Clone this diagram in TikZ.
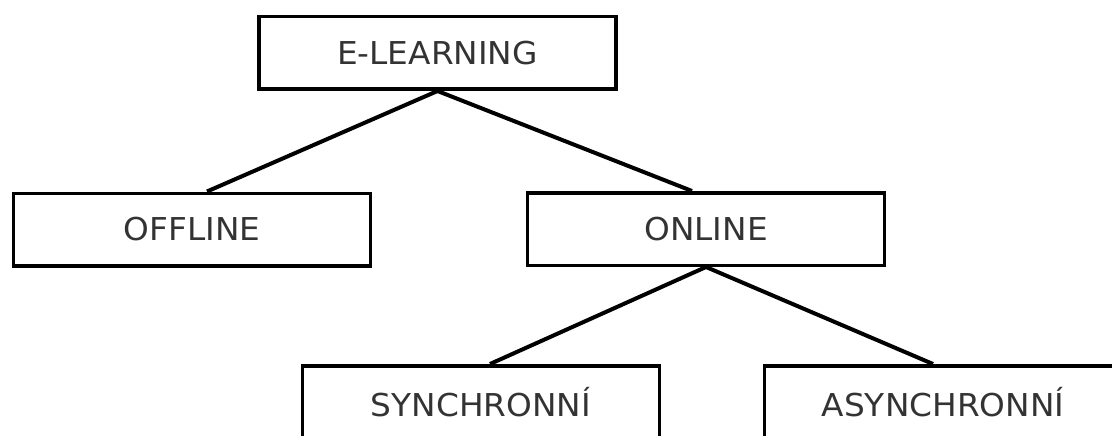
\documentclass[tikz,border=0pt]{standalone}
\usepackage{fontspec}
\setmainfont{DejaVu Sans}[FakeStretch=1.04]
\usetikzlibrary{calc}
\begin{document}
\begin{tikzpicture}[x=1pt,y=-1pt,
  box/.style={draw=black, line width=3.5pt, fill=white, minimum width=357pt, minimum height=72.5pt, inner sep=0pt, font=\fontsize{31.5}{36}\selectfont, text=black!80},
  link/.style={draw=black, line width=4pt}]
\useasboundingbox (0,0) rectangle (1112,436);
\clip (0,0) rectangle (1112,436);
\node[box] (e) at (437.5,53) {E-LEARNING};
\node[box] (off) at (192,229.5) {OFFLINE};
\node[box] (on) at (706,229) {ONLINE};
\node[box] (syn) at (481,402) {SYNCHRONNÍ};
\node[box] (asyn) at (943,402) {ASYNCHRONNÍ};
\draw[link] (e.south) -- ($(off.north)+(15,0)$);
\draw[link] (e.south) -- ($(on.north)+(-14,0)$);
\draw[link] (on.south) -- ($(syn.north)+(9,0)$);
\draw[link] (on.south) -- ($(asyn.north)+(-10,0)$);
\end{tikzpicture}
\end{document}
